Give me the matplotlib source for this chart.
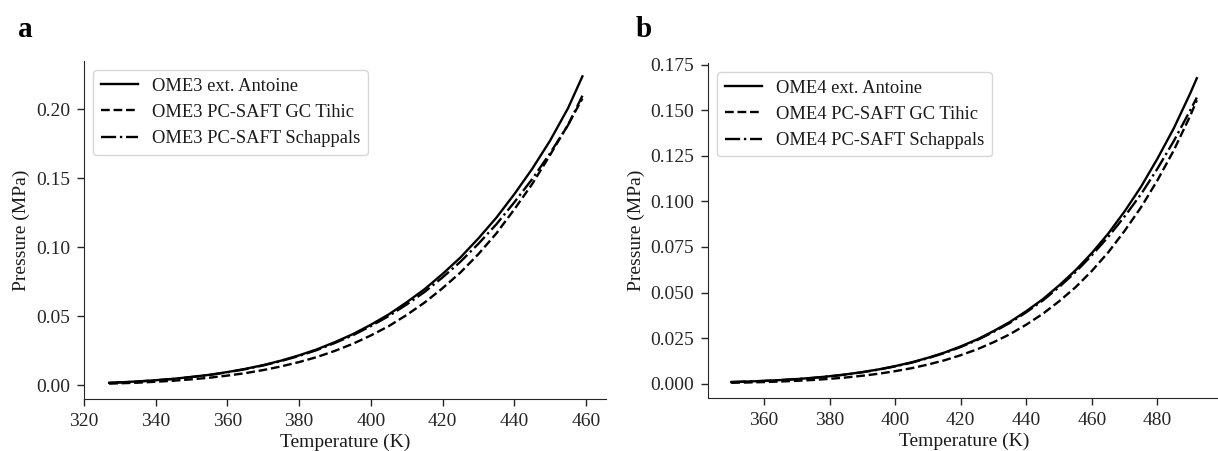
import numpy as np
import matplotlib
matplotlib.use("Agg")
import matplotlib.pyplot as plt

# vapour pressure curves (MPa)
T_ome3 = [327, 330, 335, 340, 345, 350, 355, 360, 365, 370, 375, 380, 385, 390, 395,
          400, 405, 410, 415, 420, 425, 430, 435, 440, 445, 450, 455, 459]
p_ome3_antoine = [0.0019, 0.00223, 0.0029, 0.00379, 0.0048, 0.00618, 0.0077, 0.0097,
                  0.0120, 0.01475, 0.0180, 0.02183, 0.0262, 0.03143, 0.0372, 0.0440,
                  0.0515, 0.0603, 0.0698, 0.0808, 0.0928, 0.1066, 0.1216, 0.1386,
                  0.1570, 0.1775, 0.2010, 0.2240]
p_ome3_tihic = [0.0013, 0.00155, 0.0020, 0.00267, 0.0034, 0.00443, 0.0056, 0.00713,
                0.0089, 0.01115, 0.0138, 0.01695, 0.0206, 0.02508, 0.0302, 0.03624,
                0.0430, 0.0511, 0.0601, 0.0705, 0.0819, 0.0952, 0.1102, 0.1276,
                0.1460, 0.1671, 0.1890, 0.2080]
p_ome3_schappals = [0.0018, 0.0022, 0.0028, 0.0037, 0.0047, 0.0061, 0.0076, 0.0095,
                    0.0118, 0.0145, 0.0177, 0.0214, 0.0257, 0.0308, 0.0364, 0.0430,
                    0.0503, 0.0587, 0.0678, 0.0783, 0.0897, 0.1027, 0.1168, 0.1327,
                    0.1496, 0.1684, 0.1887, 0.2100]

T_ome4 = [350, 355, 360, 365, 370, 375, 380, 385, 390, 395, 400, 405, 410, 415, 420,
          425, 430, 435, 440, 445, 450, 455, 460, 465, 470, 475, 480, 485, 490, 492]
p_ome4_antoine = [0.00089, 0.00117, 0.00152, 0.00197, 0.00253, 0.00321, 0.00407, 0.00509,
                  0.00636, 0.00783, 0.00963, 0.01170, 0.01420, 0.01704, 0.02045, 0.02428,
                  0.02884, 0.03388, 0.0398, 0.0463, 0.0539, 0.0622, 0.0717, 0.0824,
                  0.0946, 0.1081, 0.1235, 0.1402, 0.1593, 0.1676]
p_ome4_tihic = [0.00048, 0.00065, 0.00088, 0.00117, 0.00156, 0.00203, 0.00265, 0.00339,
                0.00434, 0.00545, 0.00686, 0.00848, 0.01049, 0.01280, 0.01563, 0.01885,
                0.02274, 0.02714, 0.0324, 0.0383, 0.0452, 0.0529, 0.0619, 0.0721,
                0.0839, 0.0968, 0.1116, 0.1281, 0.1470, 0.1555]
p_ome4_schappals = [0.00088, 0.00115, 0.00150, 0.00194, 0.00249, 0.00316, 0.00401, 0.00501,
                    0.00626, 0.00771, 0.00948, 0.01152, 0.01398, 0.01678, 0.02013, 0.02390,
                    0.02839, 0.03335, 0.0392, 0.0456, 0.0530, 0.0612, 0.0705, 0.0806,
                    0.0918, 0.1040, 0.1180, 0.1332, 0.1500, 0.1570]

plt.rcParams['font.family'] = ['Liberation Serif', 'DejaVu Serif']
plt.rcParams['font.size'] = 14
plt.rcParams['text.color'] = '0.1'
plt.rcParams['axes.labelcolor'] = '0.1'
plt.rcParams['xtick.color'] = '0.15'
plt.rcParams['ytick.color'] = '0.15'
plt.rcParams['axes.edgecolor'] = '0.15'

fig = plt.figure(figsize=(12.18, 4.51), dpi=100)
ax1 = fig.add_axes([0.0690, 0.1153, 0.4286, 0.7494])
ax2 = fig.add_axes([0.5813, 0.1175, 0.4204, 0.7428])

panels = [
    (ax1, T_ome3, p_ome3_antoine, p_ome3_tihic, p_ome3_schappals, 'OME3'),
    (ax2, T_ome4, p_ome4_antoine, p_ome4_tihic, p_ome4_schappals, 'OME4'),
]

for ax, T, pa, pt, ps, name in panels:
    ax.plot(T, pa, color='black', linestyle='-', lw=1.7, label=f'{name} ext. Antoine')
    ax.plot(T, pt, color='black', linestyle='--', lw=1.7, label=f'{name} PC-SAFT GC Tihic')
    ax.plot(T, ps, color='black', linestyle='-.', lw=1.7, label=f'{name} PC-SAFT Schappals')
    ax.set_xlabel('Temperature (K)', fontsize=14, labelpad=3)
    ax.set_ylabel('Pressure (MPa)', fontsize=14)
    ax.spines['top'].set_visible(False)
    ax.spines['right'].set_visible(False)
    ax.tick_params(direction='out', length=5, width=1, labelsize=14, pad=5)
    ax.legend(loc='upper left', fontsize=13.3, handlelength=2.0)

ax1.set_yticks([0.00, 0.05, 0.10, 0.15, 0.20])
ax1.set_yticklabels(['0.00', '0.05', '0.10', '0.15', '0.20'])
ax1.set_xticks([320, 340, 360, 380, 400, 420, 440, 460])

ax2.set_yticks([0.000, 0.025, 0.050, 0.075, 0.100, 0.125, 0.150, 0.175])
ax2.set_yticklabels(['0.000', '0.025', '0.050', '0.075', '0.100', '0.125', '0.150', '0.175'])
ax2.set_xticks([360, 380, 400, 420, 440, 460, 480])

fig.text(18 / 1218, 1 - 37 / 451, 'a', fontsize=21, fontweight='bold', color='black')
fig.text(636 / 1218, 1 - 37 / 451, 'b', fontsize=21, fontweight='bold', color='black')

fig.savefig('out.png', dpi=100)
